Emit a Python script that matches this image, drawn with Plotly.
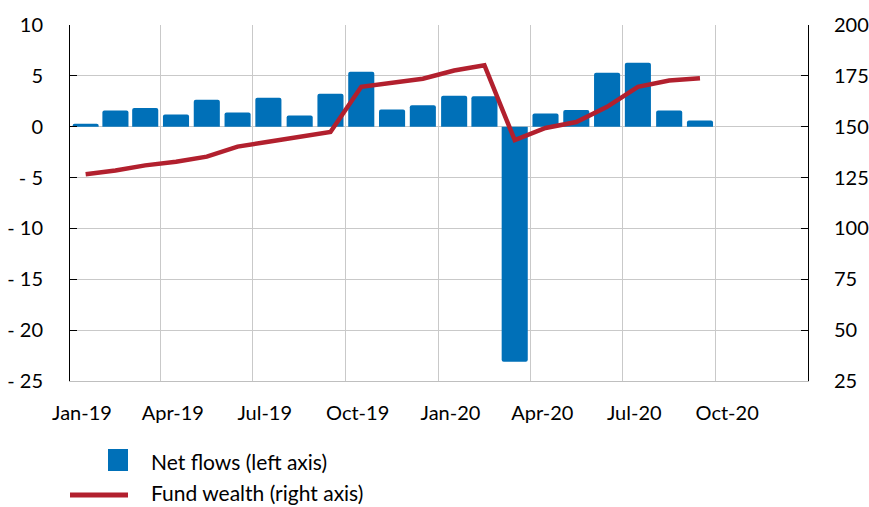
import plotly.graph_objects as go

months = ["2019-01-01", "2019-02-01", "2019-03-01", "2019-04-01", "2019-05-01", "2019-06-01",
          "2019-07-01", "2019-08-01", "2019-09-01", "2019-10-01", "2019-11-01", "2019-12-01",
          "2020-01-01", "2020-02-01", "2020-03-01", "2020-04-01", "2020-05-01", "2020-06-01",
          "2020-07-01", "2020-08-01", "2020-09-01"]
net_flows = [0.3, 1.6, 1.85, 1.2, 2.65, 1.4, 2.85, 1.1, 3.25, 5.4, 1.7, 2.1,
             3.05, 3.0, -23.1, 1.3, 1.65, 5.3, 6.3, 1.6, 0.6]
fund_wealth = [126.6, 128.5, 131.0, 132.8, 135.3, 140.2, 142.6, 144.9, 147.4, 169.6, 171.6, 173.6,
               177.6, 180.2, 143.4, 149.4, 152.3, 159.8, 169.6, 172.7, 173.8]

tick_dates = ["2019-01-01", "2019-04-01", "2019-07-01", "2019-10-01",
              "2020-01-01", "2020-04-01", "2020-07-01", "2020-10-01"]
tick_labels = ["Jan-19", "Apr-19", "Jul-19", "Oct-19", "Jan-20", "Apr-20", "Jul-20", "Oct-20"]
left_ticks = [10, 5, 0, -5, -10, -15, -20, -25]
left_labels = ["10", "5", "0", "- 5", "- 10", "- 15", "- 20", "- 25"]
right_ticks = [200, 175, 150, 125, 100, 75, 50, 25]
legend_names = ["Net flows (left axis)", "Fund wealth (right axis)"]

BLUE = "#0070B8"
RED = "#B2202E"
GRID = "#C9C9C9"
FONT = "Lato"

W, H = 869, 507
L, R, T, B = 70, 61, 25, 126
PW, PH = W - L - R, H - T - B


def px_x(px):
    return (px - L) / PW


def px_y(py):
    return (H - B - py) / PH


fig = go.Figure()
fig.add_trace(go.Bar(
    x=months, y=net_flows, name=legend_names[0],
    xperiod="M1", xperiodalignment="middle",
    width=[0.85 * 30.4 * 86400000] * len(months),
    marker=dict(color=BLUE, line=dict(width=0), cornerradius=2),
    yaxis="y",
))
fig.add_trace(go.Scatter(
    x=months, y=fund_wealth, name=legend_names[1],
    xperiod="M1", xperiodalignment="middle",
    mode="lines", line=dict(color=RED, width=4.5),
    yaxis="y2",
))

shapes = [
    dict(type="rect", xref="paper", yref="paper",
         x0=px_x(108), x1=px_x(128), y0=px_y(471), y1=px_y(449),
         fillcolor=BLUE, line=dict(width=0)),
    dict(type="line", xref="paper", yref="paper",
         x0=px_x(70), x1=px_x(128), y0=px_y(495), y1=px_y(495),
         line=dict(color=RED, width=5)),
]
annotations = [
    dict(text=legend_names[0], xref="paper", yref="paper", x=px_x(149), y=px_y(461),
         xanchor="left", yanchor="middle", showarrow=False, font=dict(family=FONT, size=21)),
    dict(text=legend_names[1], xref="paper", yref="paper", x=px_x(149), y=px_y(493),
         xanchor="left", yanchor="middle", showarrow=False, font=dict(family=FONT, size=21)),
]

fig.update_layout(
    width=W, height=H,
    margin=dict(l=L, r=R, t=T, b=B),
    paper_bgcolor="white", plot_bgcolor="white",
    font=dict(family=FONT, size=20, color="#000000"),
    showlegend=False,
    shapes=shapes, annotations=annotations,
    xaxis=dict(
        type="date", range=["2019-01-01", "2021-01-01"],
        tickvals=tick_dates, ticktext=tick_labels,
        ticklabelshift=12, ticks="", ticklabelstandoff=14,
        showgrid=True, gridcolor=GRID, gridwidth=1,
        showline=True, linecolor="#BFBFBF", linewidth=1,
        zeroline=False, automargin=False,
    ),
    yaxis=dict(
        range=[-25, 10], tickvals=left_ticks, ticktext=left_labels,
        showgrid=True, gridcolor=GRID, gridwidth=1,
        showline=True, linecolor="#000000", linewidth=1,
        ticks="inside", ticklen=7, tickcolor="#000000",
        ticklabelstandoff=22, zeroline=False, automargin=False,
    ),
    yaxis2=dict(
        range=[25, 200], tickvals=right_ticks, overlaying="y", side="right",
        showgrid=False, showline=True, linecolor="#000000", linewidth=1,
        ticks="inside", ticklen=7, tickcolor="#000000",
        ticklabelstandoff=21, zeroline=False, automargin=False,
    ),
)

fig.write_html("out.html", config={"displayModeBar": False},
               post_script="document.body.style.margin='0';document.body.style.overflow='hidden';")
